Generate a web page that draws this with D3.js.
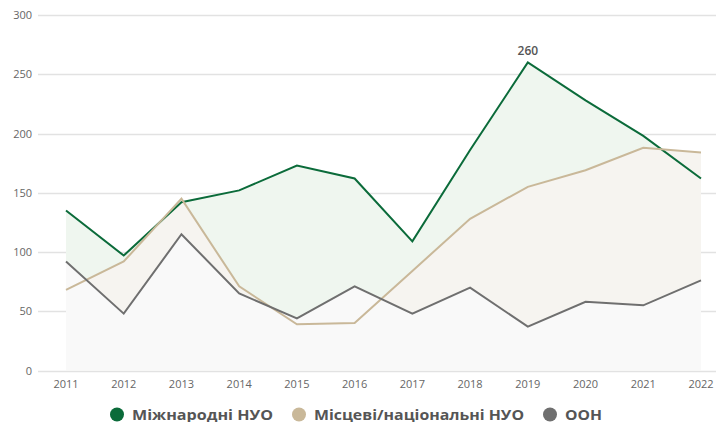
<!DOCTYPE html>
<html>
<meta charset='utf-8'>
<head>
<script src='https://d3js.org/d3.v7.min.js'></script>
<style>
  body { margin: 0; background: #fff; }
  text { font-family: 'Open Sans', sans-serif; }
</style>
</head>
<body>
<div id='chart'></div>
<script>
var years = [2011, 2012, 2013, 2014, 2015, 2016, 2017, 2018, 2019, 2020, 2021, 2022]
var intl = [135, 97, 142, 152, 173, 162, 109, 186, 260, 228, 198, 162]
var local = [68, 92, 145, 71, 39, 40, 84, 128, 155, 169, 188, 184]
var un = [92, 48, 115, 65, 44, 71, 48, 70, 37, 58, 55, 76]
var yTicks = [0, 50, 100, 150, 200, 250, 300]
var names = ['Міжнародні НУО', 'Місцеві/національні НУО', 'ООН']

var W = 716, H = 422
var svg = d3.select('#chart').append('svg')
  .attr('width', W).attr('height', H)

var x = d3.scalePoint().domain(years).range([66, 701])
var y = d3.scaleLinear().domain([0, 300]).range([370.5, 15])

// grid
svg.append('g').selectAll('line')
  .data(yTicks).enter().append('line')
  .attr('x1', 38).attr('x2', 716)
  .attr('y1', function(d) { return Math.round(y(d)) + 0.5 })
  .attr('y2', function(d) { return Math.round(y(d)) + 0.5 })
  .attr('stroke', '#e2e2e2').attr('stroke-width', 1.3)

svg.append('g').selectAll('text')
  .data(yTicks).enter().append('text')
  .attr('x', 32).attr('y', function(d) { return y(d) + 4 })
  .attr('text-anchor', 'end')
  .attr('font-size', 11).attr('fill', '#666')
  .text(function(d) { return d })

svg.append('g').selectAll('text')
  .data(years).enter().append('text')
  .attr('x', function(d) { return x(d) }).attr('y', 388)
  .attr('text-anchor', 'middle')
  .attr('font-size', 11).attr('fill', '#666')
  .text(function(d) { return d })

var series = [
  {vals: intl, line: '#0b6b3a', fill: '#eff6ef'},
  {vals: local, line: '#c9b899', fill: '#f6f4f0'},
  {vals: un, line: '#6f6f6f', fill: '#f9f9f9'}
]

var area = function(vals) {
  return d3.area()
    .x(function(d, i) { return x(years[i]) })
    .y0(y(0))
    .y1(function(d) { return y(d) })(vals)
}
var line = function(vals) {
  return d3.line()
    .x(function(d, i) { return x(years[i]) })
    .y(function(d) { return y(d) })(vals)
}

series.forEach(function(s) {
  svg.append('path').attr('d', area(s.vals)).attr('fill', s.fill)
})
series.forEach(function(s) {
  svg.append('path').attr('d', line(s.vals))
    .attr('fill', 'none').attr('stroke', s.line).attr('stroke-width', 2)
})

// peak label
var peak = intl.indexOf(d3.max(intl))
svg.append('text')
  .attr('x', x(years[peak])).attr('y', y(intl[peak]) - 7)
  .attr('text-anchor', 'middle')
  .attr('font-size', 12).attr('font-weight', 600).attr('fill', '#555')
  .text(intl[peak])

// legend
var legX = [117, 299, 550]
var legW = [141, 210, 37]
var leg = svg.append('g')
series.forEach(function(s, i) {
  leg.append('circle').attr('cx', legX[i]).attr('cy', 414.5).attr('r', 7).attr('fill', s.line)
  leg.append('text').attr('x', legX[i] + 15).attr('y', 419.5)
    .attr('font-size', 15).attr('font-weight', 700).attr('fill', '#555')
    .attr('textLength', legW[i]).attr('lengthAdjust', 'spacingAndGlyphs')
    .text(names[i])
})
</script>
</body>
</html>
